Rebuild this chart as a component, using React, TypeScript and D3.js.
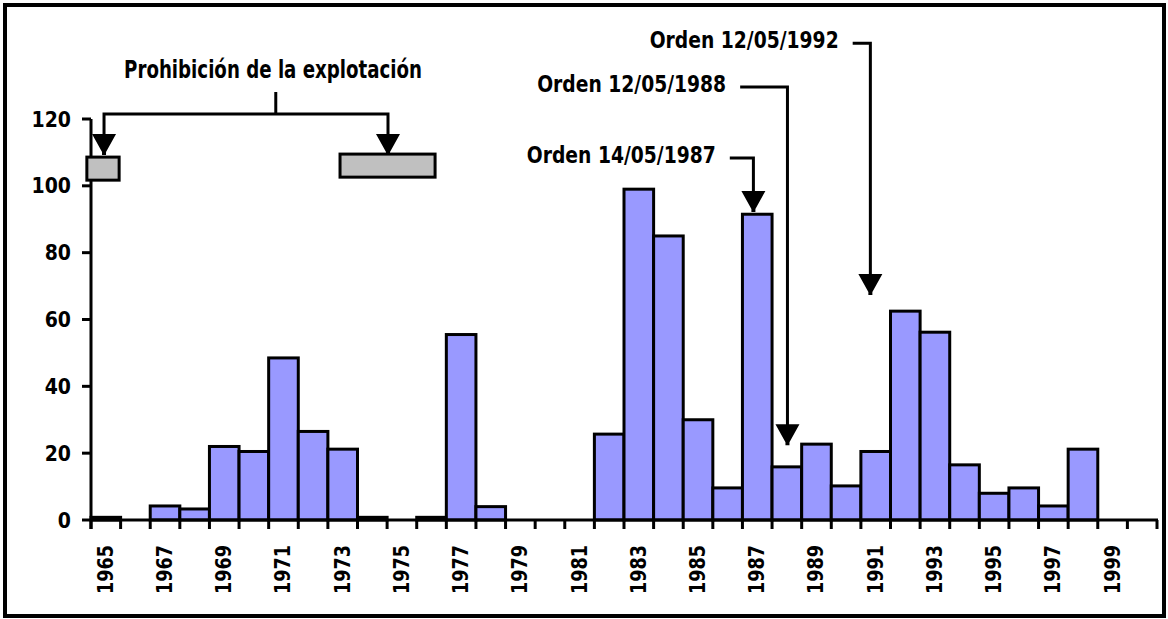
import React from "react";
import * as d3 from "d3";

const years: number[] = [
  1965, 1966, 1967, 1968, 1969, 1970, 1971, 1972, 1973, 1974, 1975, 1976,
  1977, 1978, 1979, 1980, 1981, 1982, 1983, 1984, 1985, 1986, 1987, 1988,
  1989, 1990, 1991, 1992, 1993, 1994, 1995, 1996, 1997, 1998, 1999, 2000,
];
const values: number[] = [
  0.8, 0, 4.2, 3.3, 22, 20.5, 48.5, 26.5, 21.2, 0.8, 0, 0.8,
  55.5, 4, 0, 0, 0, 25.7, 99, 85, 30, 9.6, 91.5, 15.9,
  22.7, 10.2, 20.5, 62.5, 56.2, 16.5, 8, 9.6, 4.2, 21.2, 0, 0,
];
const yTicks: number[] = [0, 20, 40, 60, 80, 100, 120];
const xLabelYears: number[] = years.filter((y) => (y - 1965) % 2 === 0 && y < 2000);

// Annotation definitions (data units: year position, value)
const prohibitionLabel = "Prohibición de la explotación";
const prohibitionLabelCenter = 1971.25;
const prohibitionStem = 1971.24;
const prohibitionArrows = [1965.44, 1975.03];
const prohibitionBoxes = [
  { x0: 1964.86, x1: 1965.95, y0: 101.7, y1: 108.6 },
  { x0: 1973.41, x1: 1976.62, y0: 102.6, y1: 109.5 },
];
const ordenes = [
  { label: "Orden 14/05/1987", stem: 1987.37, lineY: 108.3, tip: 92.2, textEnd: 1986.1 },
  { label: "Orden 12/05/1988", stem: 1988.52, lineY: 129.6, tip: 22.4, textEnd: 1986.45 },
  { label: "Orden 12/05/1992", stem: 1991.32, lineY: 142.7, tip: 67.3, textEnd: 1990.25 },
];

const W = 1168;
const H = 619;
const FONT = "'Liberation Sans Narrow', 'DejaVu Sans Condensed', 'Arial Narrow', sans-serif";
const BAR_FILL = "#9999ff";

export default function App() {
  const x = d3.scaleBand<number>().domain(years).range([91, 1157]).padding(0);
  const xl = d3.scaleLinear().domain([1965, 2001]).range([91, 1157]);
  const y = d3.scaleLinear().domain([0, 120]).range([520, 119]);
  const bw = x.bandwidth();

  const arrowHead = (sx: number, tipY: number) => {
    const top = tipY - 21;
    return `${sx - 12},${top} ${sx + 12},${top} ${sx + 2},${tipY - 3} ${sx + 2},${tipY} ${sx - 2},${tipY} ${sx - 2},${tipY - 3}`;
  };

  const boundaries = d3.range(years.length + 1).map((i) => 91 + i * bw);

  const bracketY = y(121.5);
  const ax0 = xl(prohibitionArrows[0]);
  const ax1 = xl(prohibitionArrows[1]);
  const stemX = xl(prohibitionStem);

  return (
    <svg
      width={W}
      height={H}
      style={{ position: "absolute", left: 0, top: 0, background: "#fff" }}
      fontFamily={FONT}
      fontWeight="bold"
    >
      <rect x={0} y={0} width={W} height={H} fill="#fff" />
      {/* frame */}
      <rect x={5} y={5} width={1159} height={611} fill="none" stroke="#000" strokeWidth={4} />

      {/* bars */}
      {years.map((yr, i) =>
        values[i] > 0 ? (
          <rect
            key={yr}
            x={x(yr)}
            y={y(values[i])}
            width={bw}
            height={y(0) - y(values[i])}
            fill={BAR_FILL}
            stroke="#000"
            strokeWidth={3}
          />
        ) : null
      )}

      {/* y axis */}
      <line x1={91} x2={91} y1={y(120)} y2={y(0) + 9} stroke="#000" strokeWidth={3} />
      {yTicks.map((t) => (
        <g key={t}>
          <line x1={82} x2={91} y1={y(t)} y2={y(t)} stroke="#000" strokeWidth={3} />
          <text x={71} y={y(t)} dy="0.36em" textAnchor="end" fontSize={21}>
            {t}
          </text>
        </g>
      ))}

      {/* x axis */}
      <line x1={91} x2={1158} y1={y(0)} y2={y(0)} stroke="#000" strokeWidth={3} />
      {boundaries.map((bx, i) => (
        <line key={i} x1={bx} x2={bx} y1={y(0)} y2={y(0) + 9} stroke="#000" strokeWidth={3} />
      ))}
      {xLabelYears.map((yr) => {
        const cx = (x(yr) as number) + bw / 2;
        return (
          <text
            key={yr}
            transform={`translate(${cx + 7},${594}) rotate(-90)`}
            fontSize={22}
            textLength={49}
            lengthAdjust="spacingAndGlyphs"
          >
            {yr}
          </text>
        );
      })}

      {/* Prohibición annotation */}
      <text
        x={xl(prohibitionLabelCenter) - 3}
        y={78}
        textAnchor="middle"
        fontSize={24}
        textLength={298}
        lengthAdjust="spacingAndGlyphs"
      >
        {prohibitionLabel}
      </text>
      <line x1={stemX} x2={stemX} y1={92} y2={bracketY} stroke="#000" strokeWidth={3} />
      <polyline
        points={`${ax0},${y(111)} ${ax0},${bracketY} ${ax1},${bracketY} ${ax1},${y(111)}`}
        fill="none"
        stroke="#000"
        strokeWidth={3}
      />
      {prohibitionArrows.map((a, i) => (
        <polygon key={i} points={arrowHead(xl(a), y(109.5) + 1)} fill="#000" />
      ))}
      {prohibitionBoxes.map((b, i) => (
        <rect
          key={i}
          x={xl(b.x0)}
          y={y(b.y1)}
          width={xl(b.x1) - xl(b.x0)}
          height={y(b.y0) - y(b.y1)}
          fill="#c0c0c0"
          stroke="#000"
          strokeWidth={3}
        />
      ))}

      {/* Orden annotations */}
      {ordenes.map((o) => {
        const sx = xl(o.stem);
        const ly = y(o.lineY);
        const tx = xl(o.textEnd);
        return (
          <g key={o.label}>
            <text x={tx} y={ly + 5} textAnchor="end" fontSize={23} textLength={189} lengthAdjust="spacingAndGlyphs">
              {o.label}
            </text>
            <polyline
              points={`${tx + 14},${ly} ${sx},${ly} ${sx},${y(o.tip) - 10}`}
              fill="none"
              stroke="#000"
              strokeWidth={3}
            />
            <polygon points={arrowHead(sx, y(o.tip))} fill="#000" />
          </g>
        );
      })}
    </svg>
  );
}
